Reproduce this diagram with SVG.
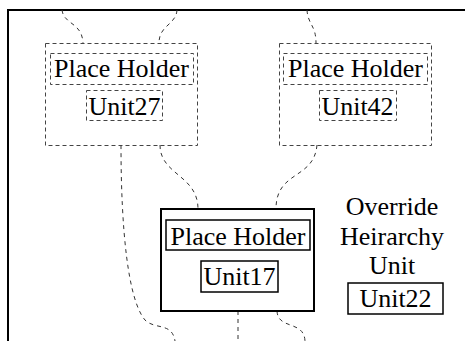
<svg xmlns="http://www.w3.org/2000/svg" width="465" height="341" viewBox="0 0 465 341">
<style>
.t{font-family:"Liberation Serif","Times New Roman",Times,Tinos,"Nimbus Roman","Nimbus Roman No9 L","FreeSerif","Noto Serif","DejaVu Serif",serif;font-size:26px;fill:#000;text-anchor:middle}
.dbox{fill:none;stroke:#444;stroke-width:1;stroke-dasharray:4,3}
.sbox{fill:#fff;stroke:#000;stroke-width:1.5}
.tbox{fill:#fff;stroke:#000;stroke-width:2}
.edge{fill:none;stroke:#333;stroke-width:1;stroke-dasharray:4,4}
</style>
<rect width="465" height="341" fill="#fff"/>
<g id="frame">
<path d="M8,341 L8,10 L465,10" fill="none" stroke="#000" stroke-width="2"/>
</g>
<g id="connectors">
<path class="edge" d="M62,10 C64,25 82,22 83,43"/>
<path class="edge" d="M177,10 C176,25 159,25 159,43"/>
<path class="edge" d="M307,10 C308,25 316,25 316,43"/>
<path class="edge" d="M317,145 C314,180 276,170 276,209"/>
<path class="edge" d="M121,145 C121,230 128,300 145,320 C155,330 172,322 175,341"/>
<path class="edge" d="M160,145 C160,175 198,175 198,209"/>
<path class="edge" d="M238,311 L238,341"/>
<path class="edge" d="M277,311 C278,330 304,320 305,341"/>
</g>
<g id="unit27">
<rect class="dbox" x="45.5" y="43.5" width="152" height="102"/>
<rect class="dbox" x="50.5" y="53.5" width="143" height="31"/>
<text class="t" x="121.5" y="77">Place Holder</text>
<rect class="dbox" x="86.5" y="90.5" width="76" height="30"/>
<text class="t" x="124.5" y="115">Unit27</text>
</g>
<g id="unit42">
<rect class="dbox" x="279.5" y="43.5" width="152" height="102"/>
<rect class="dbox" x="283.5" y="53.5" width="144" height="31"/>
<text class="t" x="355.5" y="77">Place Holder</text>
<rect class="dbox" x="319.5" y="90.5" width="77" height="30"/>
<text class="t" x="357.5" y="115">Unit42</text>
</g>
<g id="unit17">
<rect class="tbox" x="161" y="209" width="153" height="102"/>
<rect class="sbox" x="166" y="220" width="144" height="30"/>
<text class="t" x="238" y="245">Place Holder</text>
<rect class="sbox" x="201" y="261" width="77" height="31"/>
<text class="t" x="239.5" y="285">Unit17</text>
</g>
<g id="unit22">
<text class="t" x="392" y="215">Override</text>
<text class="t" x="392" y="245">Heirarchy</text>
<text class="t" x="392" y="274">Unit</text>
<rect class="sbox" x="348" y="283" width="95" height="31"/>
<text class="t" x="395.5" y="307">Unit22</text>
</g>
</svg>
